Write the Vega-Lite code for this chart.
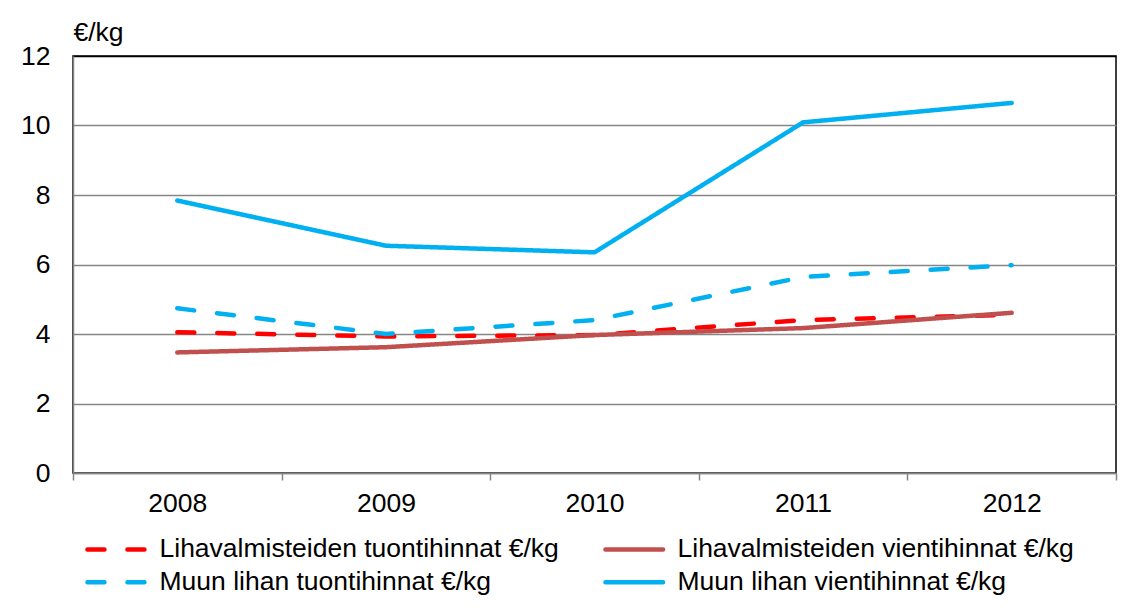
{
  "$schema": "https://vega.github.io/schema/vega-lite/v6.json",
  "width": 1043,
  "height": 417,
  "autosize": {"type": "none"},
  "padding": {"left": 73, "top": 56, "right": 16, "bottom": 135},
  "background": "white",
  "config": {
    "font": "Liberation Sans",
    "view": {"stroke": "black", "strokeWidth": 1.5},
    "axis": {"labelFont": "Liberation Sans", "labelFontSize": 26.5, "labelColor": "black", "titleFont": "Liberation Sans", "titleFontSize": 26.5, "titleFontWeight": "normal", "titleColor": "black"},
    "legend": {"labelFont": "Liberation Sans", "labelFontSize": 26.5, "labelColor": "black", "labelLimit": 600}
  },
  "data": {
    "values": [
      {"year": "2008", "series": "Lihavalmisteiden tuontihinnat €/kg", "value": 4.05},
      {"year": "2009", "series": "Lihavalmisteiden tuontihinnat €/kg", "value": 3.93},
      {"year": "2010", "series": "Lihavalmisteiden tuontihinnat €/kg", "value": 3.97},
      {"year": "2011", "series": "Lihavalmisteiden tuontihinnat €/kg", "value": 4.40},
      {"year": "2012", "series": "Lihavalmisteiden tuontihinnat €/kg", "value": 4.55},
      {"year": "2008", "series": "Lihavalmisteiden vientihinnat €/kg", "value": 3.47},
      {"year": "2009", "series": "Lihavalmisteiden vientihinnat €/kg", "value": 3.62},
      {"year": "2010", "series": "Lihavalmisteiden vientihinnat €/kg", "value": 3.97},
      {"year": "2011", "series": "Lihavalmisteiden vientihinnat €/kg", "value": 4.17},
      {"year": "2012", "series": "Lihavalmisteiden vientihinnat €/kg", "value": 4.61},
      {"year": "2008", "series": "Muun lihan tuontihinnat €/kg", "value": 4.74},
      {"year": "2009", "series": "Muun lihan tuontihinnat €/kg", "value": 4.0},
      {"year": "2010", "series": "Muun lihan tuontihinnat €/kg", "value": 4.4},
      {"year": "2011", "series": "Muun lihan tuontihinnat €/kg", "value": 5.64},
      {"year": "2012", "series": "Muun lihan tuontihinnat €/kg", "value": 5.98},
      {"year": "2008", "series": "Muun lihan vientihinnat €/kg", "value": 7.84},
      {"year": "2009", "series": "Muun lihan vientihinnat €/kg", "value": 6.54},
      {"year": "2010", "series": "Muun lihan vientihinnat €/kg", "value": 6.35},
      {"year": "2011", "series": "Muun lihan vientihinnat €/kg", "value": 10.09},
      {"year": "2012", "series": "Muun lihan vientihinnat €/kg", "value": 10.65}
    ]
  },
  "mark": {"type": "line", "strokeWidth": 4.5, "strokeCap": "round", "strokeJoin": "miter"},
  "encoding": {
    "x": {
      "field": "year", "type": "ordinal",
      "scale": {"type": "band", "paddingInner": 0, "paddingOuter": 0},
      "axis": {
        "title": null, "labelAngle": 0, "tickBand": "extent", "grid": false,
        "domainColor": "#868686", "domainWidth": 1.5,
        "tickColor": "#868686", "tickWidth": 1.5, "tickSize": 7,
        "labelPadding": 10
      }
    },
    "y": {
      "field": "value", "type": "quantitative",
      "scale": {"domain": [0, 12], "nice": false},
      "axis": {
        "title": "€/kg", "titleAngle": 0, "titleAlign": "left", "titleBaseline": "alphabetic",
        "titleX": 0, "titleY": -16,
        "values": [0, 2, 4, 6, 8, 10, 12],
        "ticks": false, "labelPadding": 23,
        "domainColor": "#868686", "domainWidth": 1.5,
        "gridColor": {"condition": {"test": "datum.value === 12", "value": "black"}, "value": "#868686"},
        "gridWidth": 1.5
      }
    },
    "color": {
      "field": "series", "type": "nominal",
      "scale": {
        "domain": ["Lihavalmisteiden tuontihinnat €/kg", "Lihavalmisteiden vientihinnat €/kg", "Muun lihan tuontihinnat €/kg", "Muun lihan vientihinnat €/kg"],
        "range": ["#FF0000", "#C0504D", "#00B0F0", "#00B0F0"]
      },
      "legend": {
        "title": null, "orient": "none", "legendX": 30, "legendY": 480,
        "direction": "horizontal", "columns": 2, "columnPadding": 37, "rowPadding": 6,
        "symbolType": "M-3.6,0H3.6", "symbolSize": 256, "symbolStrokeWidth": 4.5,
        "labelOffset": 30, "padding": 0,
        "encode": {"symbols": {"update": {"strokeCap": {"value": "round"}}}}
      }
    },
    "strokeDash": {
      "field": "series", "type": "nominal",
      "scale": {
        "domain": ["Lihavalmisteiden tuontihinnat €/kg", "Lihavalmisteiden vientihinnat €/kg", "Muun lihan tuontihinnat €/kg", "Muun lihan vientihinnat €/kg"],
        "range": [[17, 23], [1, 0], [17, 23], [1, 0]]
      },
      "legend": {
        "title": null, "orient": "none", "legendX": 30, "legendY": 480,
        "direction": "horizontal", "columns": 2, "columnPadding": 37, "rowPadding": 6,
        "symbolType": "M-3.6,0H3.6", "symbolSize": 256, "symbolStrokeWidth": 4.5,
        "labelOffset": 30, "padding": 0,
        "encode": {"symbols": {"update": {"strokeCap": {"value": "round"}}}}
      }
    }
  }
}
